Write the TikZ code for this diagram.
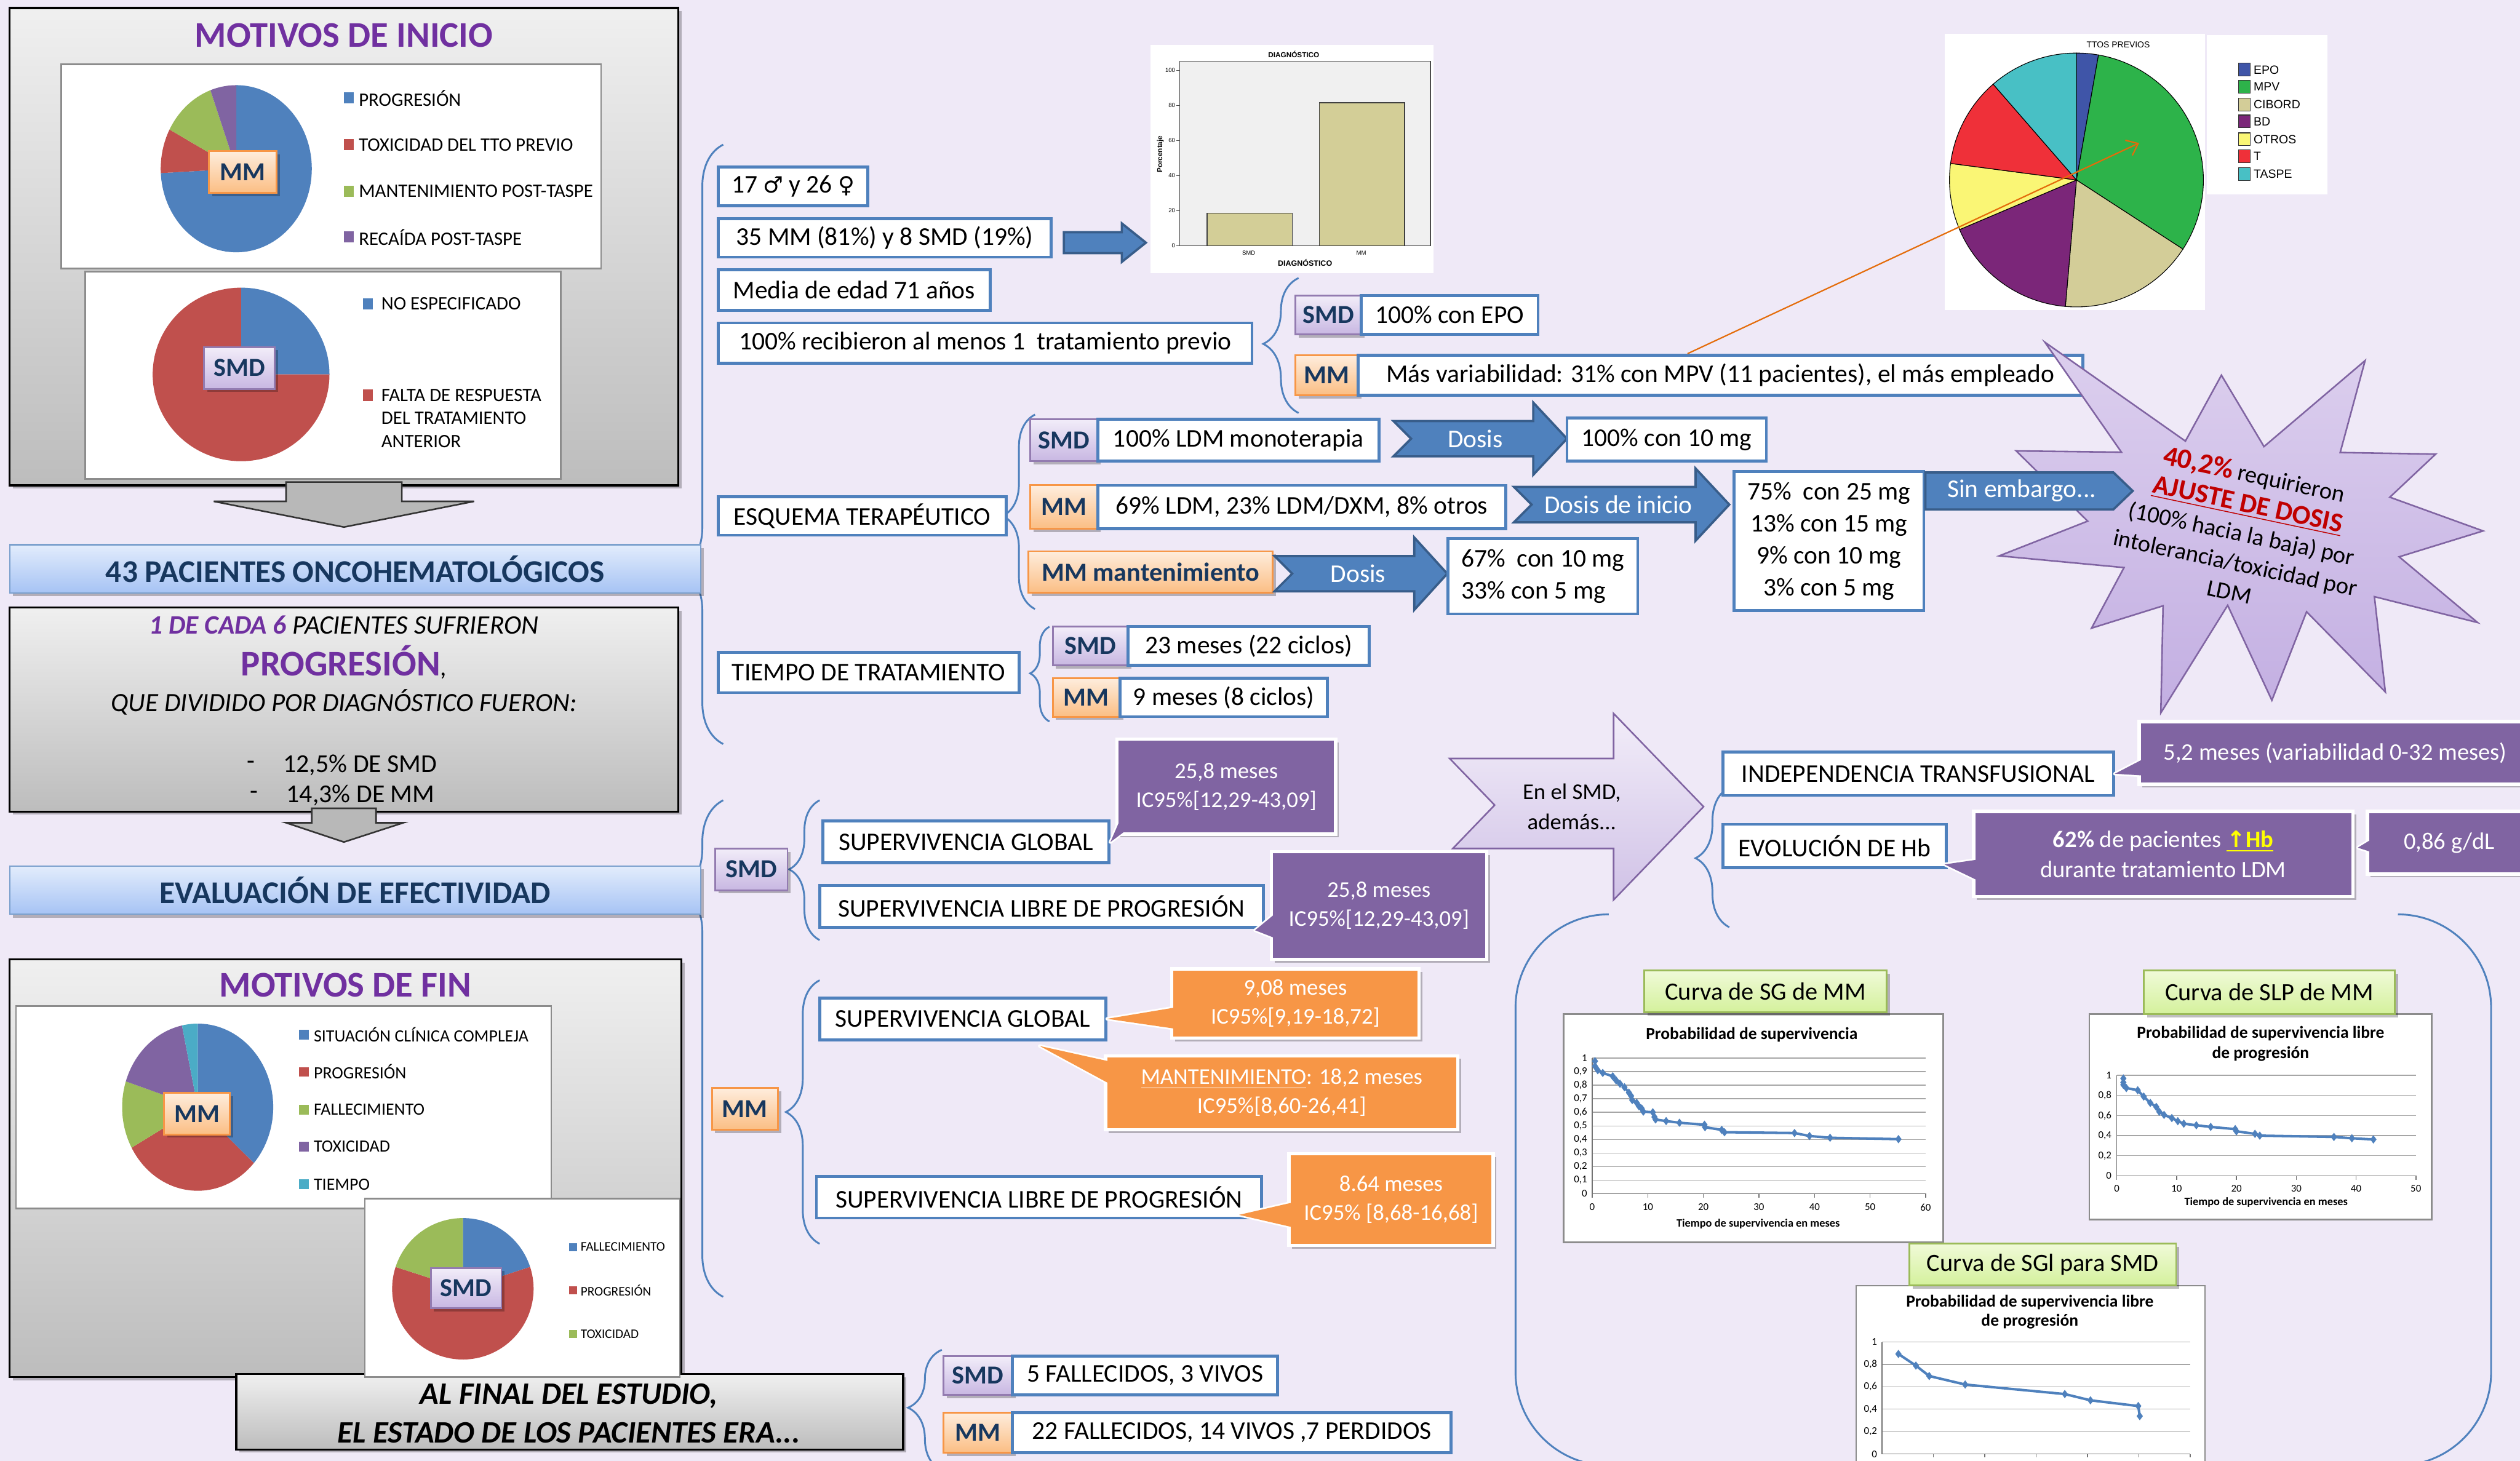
\documentclass[tikz,border=0pt]{standalone}
\usepackage{fontspec}
\setmainfont{Carlito}
\newfontfamily\symbolfont{DejaVu Sans}
\newfontfamily\chartfont{Liberation Sans}
\usepackage{tikz}
\usetikzlibrary{arrows.meta,positioning,fit,calc,shadows,decorations.pathreplacing,plotmarks}
\definecolor{posterBg}{HTML}{EFE9F7}
\definecolor{boxBlue}{HTML}{4F81BD}
\definecolor{boxBlueDark}{HTML}{385D8A}
\definecolor{navyText}{HTML}{17375E}
\definecolor{titlePurple}{HTML}{7030A0}
\definecolor{calPurple}{HTML}{8064A2}
\definecolor{calOrange}{HTML}{F79646}
\definecolor{pieBlue}{HTML}{4F81BD}
\definecolor{pieRed}{HTML}{C0504D}
\definecolor{pieGreen}{HTML}{9BBB59}
\definecolor{piePurple}{HTML}{8064A2}
\definecolor{pieCyan}{HTML}{4BACC6}
\definecolor{redAlert}{HTML}{C00000}
\definecolor{hbYellow}{HTML}{FFFF00}
\definecolor{bandTop}{HTML}{E2ECFC}
\definecolor{bandBottom}{HTML}{A6C3F4}
\definecolor{lilacTop}{HTML}{F2EDF9}
\definecolor{lilacBottom}{HTML}{C8B7E2}
\definecolor{peachTop}{HTML}{FEEDDD}
\definecolor{peachBottom}{HTML}{FBBE84}
\definecolor{greenTop}{HTML}{F0FAD8}
\definecolor{greenBottom}{HTML}{D4F19C}
\definecolor{starTop}{HTML}{DCCFEE}
\definecolor{starBottom}{HTML}{C3AFE2}
\definecolor{barTan}{HTML}{D3CE97}
\definecolor{orangeLine}{HTML}{E46C0A}
\definecolor{ttEpo}{HTML}{3F55A8}
\definecolor{ttMpv}{HTML}{2DB34A}
\definecolor{ttCibord}{HTML}{D3CD98}
\definecolor{ttBd}{HTML}{7B2679}
\definecolor{ttOtros}{HTML}{FAF675}
\definecolor{ttT}{HTML}{EF3039}
\definecolor{ttTaspe}{HTML}{48C0C5}
\newcommand{\fsz}[2]{\fontsize{#1}{#2}\selectfont}
\tikzset{
    softshadow/.style={drop shadow={shadow xshift=0.5mm, shadow yshift=-0.5mm, opacity=0.25, fill=black}},
    panel/.style={draw=black, line width=0.9pt, top color=black!6, bottom color=black!26, inner sep=0pt, softshadow},
    paneltitle/.style={font=\fsz{16}{18}\bfseries, text=titlePurple},
    band/.style={draw=boxBlue!75, line width=0.6pt, top color=bandTop, bottom color=bandBottom, inner sep=0pt, softshadow},
    chartbox/.style={fill=white, draw=black!45, line width=0.7pt, inner sep=0pt},
    infobox/.style={fill=white, draw=boxBlue, line width=1.3pt, inner sep=0pt},
    smdtag/.style={draw=calPurple!85, line width=0.8pt, top color=lilacTop, bottom color=lilacBottom, inner sep=0pt, softshadow},
    mmtag/.style={draw=calOrange, line width=0.8pt, top color=peachTop, bottom color=peachBottom, inner sep=0pt, softshadow},
    calloutP/.style={fill=calPurple, draw=white, line width=1.5pt, inner sep=0pt, softshadow},
    calloutO/.style={calloutP, fill=calOrange},
    curvelabel/.style={draw=pieGreen, line width=0.8pt, top color=greenTop, bottom color=greenBottom, inner sep=0pt, softshadow},
    boxtext/.style={inner sep=0pt, text=black},
    tagtext/.style={inner sep=0pt, font=\fsz{11.5}{14}\bfseries, text=navyText},
    bandtext/.style={inner sep=0pt, font=\fsz{14}{16}\bfseries, text=navyText},
    callouttext/.style={inner sep=0pt, text=white, align=center, font=\fsz{10}{12.8}},
    labeltext/.style={inner sep=0pt, font=\fsz{11}{13}},
    legtext/.style={anchor=west, inner sep=0pt, font=\fsz{8.4}{10}},
    blkarrow/.style={fill=boxBlue, draw=boxBlueDark, line width=1pt},
    arrowtext/.style={text=white, inner sep=0pt},
    graypointer/.style={fill=black!28, draw=black!80, line width=0.7pt},
    gridline/.style={draw=black!35, line width=0.35pt},
    axisline/.style={draw=black!55, line width=0.4pt},
    ticklab/.style={font=\fsz{4.6}{5}, inner sep=0.6pt},
    kmcurve/.style={draw=boxBlue, line width=1.1pt, mark=diamond*, mark size=1.6pt, mark options={fill=boxBlue, draw=boxBlue, line width=0.3pt}},
    bracestyle/.style={draw=boxBlue, line width=0.8pt, decorate},
    orangelink/.style={draw=orangeLine, line width=0.6pt, -{Straight Barb[length=1.6mm, width=2.6mm]}},
    chevronbox/.style={top color=lilacTop, bottom color=lilacBottom!85, draw=calPurple, line width=0.7pt},
    starburst/.style={top color=starTop, bottom color=starBottom, draw=calPurple, line width=0.7pt}
}
% box from two corners, then its text: box style, name, corners, text style, text
\newcommand{\tbox}[5]{\node[#1, fit={#3}] (#2) {}; \node[#4] (#2txt) at (#2.center) {#5};}
% pie: centre, x radius, y radius, extra style, slices from/to/colour
\newcommand{\piechart}[5]{%
  \begin{scope}[shift={#1}, x=0.25mm, y=0.25mm]
    \foreach \a/\b/\c in {#5}
      \path[fill=\c, #4] (0,0) -- (\a:#2 and #3) arc[start angle=\a, end angle=\b, x radius=#2, y radius=#3] -- cycle;
  \end{scope}}
% block arrow: name, tail x, head x, tip x, mid y, half shaft, half head, notch
\newcommand{\blockarrow}[8]{%
  \filldraw[blkarrow] (#2,#5-#6) -- (#3,#5-#6) -- (#3,#5-#7) -- (#4,#5) -- (#3,#5+#7) -- (#3,#5+#6) -- (#2,#5+#6) -- (#2+#8,#5) -- cycle;
  \coordinate (#1) at ({(#2+#8+#3)/2},#5);}
% brace: hook x, top y, bottom y, aspect, amplitude
\newcommand{\bracket}[5]{\draw[bracestyle, decoration={brace, amplitude=#5, aspect=#4}] (#1,#3) -- (#1,#2);}
\newcommand{\pointerback}[4]{\filldraw[fill=#1, draw=white, line width=1.5pt, line join=round] #2 -- #4 -- #3;}
\newcommand{\pointerfront}[4]{\fill[#1] #2 -- #4 -- #3 -- cycle;}
\begin{document}
\begin{tikzpicture}[x=0.25mm, y=-0.25mm, font=\fsz{11.3}{14.2}]
\fill[posterBg] (0,0) rectangle (1568,909);
\useasboundingbox (0,0) rectangle (1568,909);

\bracket{450}{90}{463}{0.292}{6.5mm}
\bracket{450}{498}{807}{0.819}{6.5mm}
\bracket{808}{173}{257}{0.512}{5.5mm}
\bracket{644}{258}{379}{0.479}{5mm}
\bracket{653}{390}{449}{0.508}{3mm}
\bracket{510}{498}{585}{0.506}{4.75mm}
\bracket{510}{610}{774}{0.5}{5.25mm}
\bracket{1076}{490}{577}{0.494}{5.25mm}
\bracket{586}{840}{915}{0.52}{5.25mm}
\draw[boxBlue, line width=0.8pt] (1001,569) .. controls (969,569) and (943,595) .. (943,627) -- (943,854) .. controls (943,886) and (969,912) .. (1001,912);
\draw[boxBlue, line width=0.8pt] (1492,569) .. controls (1524,569) and (1550,595) .. (1550,627) -- (1550,854) .. controls (1550,886) and (1524,912) .. (1492,912);

% motivos de inicio
\node[panel, fit={(6,5) (422,302)}] (inicio) {};
\node[paneltitle] (iniciotitle) at (214,22) {MOTIVOS DE INICIO};
\node[chartbox, fit={(38,40) (374,167)}] (iniciomm) {};
\piechart{(147,105)}{47}{52}{}{90/-177/pieBlue, 183/152/pieRed, 152/110/pieGreen, 110/90/piePurple}
\tbox{mmtag}{iniciommtag}{(130,94) (172,120)}{tagtext}{MM}
\foreach \y/\c/\t [count=\i] in {61/pieBlue/PROGRESIÓN, 90/pieRed/TOXICIDAD DEL TTO PREVIO, 119/pieGreen/MANTENIMIENTO POST-TASPE, 147.5/piePurple/RECAÍDA POST-TASPE} {
  \fill[\c] (214,\y-3.5) rectangle (220,\y+3.5);
  \node[legtext] (inileg\i) at (223,\y) {\t};
}
\node[chartbox, fit={(53,169) (349,298)}] (iniciosmd) {};
\piechart{(150,233)}{55}{54}{}{90/0/pieBlue, 0/-270/pieRed}
\tbox{smdtag}{iniciosmdtag}{(127,216) (171,242)}{tagtext}{SMD}
\fill[pieBlue] (226,185.5) rectangle (232,192.5);
\node[legtext] (inilegne) at (237,189) {NO ESPECIFICADO};
\fill[pieRed] (226,242.5) rectangle (232,249.5);
\node[legtext, align=left, font=\fsz{8.4}{10.2}] (inilegfalta) at (237,260.3) {FALTA DE RESPUESTA\\DEL TRATAMIENTO\\ANTERIOR};
\filldraw[graypointer] (178,300) -- (250,300) -- (250,312) -- (295,312) -- (214,328) -- (133,312) -- (178,312) -- cycle;

\tbox{band}{pacientes}{(6,339) (436,369)}{bandtext}{43 PACIENTES ONCOHEMATOLÓGICOS}

\node[panel, fit={(6,378) (422,505)}] (progpanel) {};
\node[font=\fsz{11.8}{13}\itshape] (cada) at (214,389) {{\color{titlePurple}\bfseries 1 DE CADA 6} PACIENTES SUFRIERON};
\node (progword) at (214,412) {{\color{titlePurple}\bfseries\fsz{16}{18}PROGRESIÓN},};
\node[font=\fsz{11.7}{13}\itshape] (dividido) at (214,437) {QUE DIVIDIDO POR DIAGNÓSTICO FUERON:};
\node[font=\fsz{11.4}{13}] (dashsmd) at (156,476) {-};
\node[font=\fsz{11.4}{13}, anchor=west, inner sep=0pt] (progsmd) at (176,476) {12,5\% DE SMD};
\node[font=\fsz{11.4}{13}] (dashmm) at (158,495) {-};
\node[font=\fsz{11.4}{13}, anchor=west, inner sep=0pt] (progmm) at (178,495) {14,3\% DE MM};
\filldraw[graypointer] (194,503) -- (234,503) -- (234,512) -- (251,512) -- (214,524) -- (178,512) -- (194,512) -- cycle;

\tbox{band}{evaluacion}{(6,539) (436,569)}{bandtext}{EVALUACIÓN DE EFECTIVIDAD}

% motivos de fin
\node[panel, fit={(6,597) (424,857)}] (fin) {};
\node[paneltitle] (fintitle) at (215,613) {MOTIVOS DE FIN};
\node[chartbox, fit={(10,626) (343,752)}] (finmm) {};
\piechart{(123,689)}{47}{52}{}{90/-42/pieBlue, -42/-151/pieRed, 209/162/pieGreen, 162/102/piePurple, 102/90/pieCyan}
\tbox{mmtag}{finmmtag}{(102,680) (143,706)}{tagtext}{MM}
\foreach \y/\c/\t [count=\i] in {644/pieBlue/SITUACIÓN CLÍNICA COMPLEJA, 667/pieRed/PROGRESIÓN, 690.5/pieGreen/FALLECIMIENTO, 713.5/piePurple/TOXICIDAD, 737/pieCyan/TIEMPO} {
  \fill[\c] (186,\y-3) rectangle (192,\y+3);
  \node[legtext, font=\fsz{7.6}{9}] (finleg\i) at (195,\y) {\t};
}
\node[panel, fit={(147,855) (562,902)}] (alfinal) {};
\node[chartbox, fit={(227,746) (423,857)}] (finsmd) {};
\piechart{(288,802)}{44}{44}{}{90/18/pieBlue, 18/-198/pieRed, 162/90/pieGreen}
\tbox{smdtag}{finsmdtag}{(268,789) (312,814)}{tagtext}{SMD}
\foreach \y/\c/\t [count=\i] in {776/pieBlue/FALLECIMIENTO, 803/pieRed/PROGRESIÓN, 830/pieGreen/TOXICIDAD} {
  \fill[\c] (354,\y-2.5) rectangle (359,\y+2.5);
  \node[legtext, font=\fsz{5.8}{7}] (finsmdleg\i) at (361,\y) {\t};
}
\node[align=center, inner sep=0pt, font=\fsz{13.8}{17}\bfseries\itshape] (alfinaltxt) at (354,879.5) {AL FINAL DEL ESTUDIO,\\EL ESTADO DE LOS PACIENTES ERA...};

% datos generales
\tbox{infobox}{sexo}{(447,104) (540,128)}{boxtext}{17 {\symbolfont\fsz{10}{12}♂} y 26 {\symbolfont\fsz{10}{12}♀}}
\tbox{infobox}{diag}{(447,136) (654,160)}{boxtext}{35 MM (81\%) y 8 SMD (19\%)}
\tbox{infobox}{edad}{(447,168) (616,193)}{boxtext}{Media de edad 71 años}
\tbox{infobox}{previo}{(447,201) (779,226)}{boxtext}{100\% recibieron al menos 1~ tratamiento previo}
\blockarrow{diagarrow}{662}{698}{713}{151}{6.5}{12}{0}

\node[chartbox, draw=none, fit={(716,28) (892,170)}] (barchart) {};
\filldraw[fill=black!6, draw=black!70, line width=0.4pt] (734,38) rectangle (890,153);
\filldraw[fill=barTan, draw=black!75, line width=0.4pt] (751,153) rectangle (804,132.7);
\filldraw[fill=barTan, draw=black!75, line width=0.4pt] (821,153) rectangle (874,64);
\foreach \v [count=\i] in {0,20,...,100} {
  \draw[black!70, line width=0.3pt] (732,153-1.093*\v) -- (734,153-1.093*\v);
  \node[font=\chartfont\fsz{2.6}{3}, anchor=east, inner sep=0.4pt] (bary\i) at (732,153-1.093*\v) {\v};
}
\node[font=\chartfont\fsz{2.6}{3}] (barsmd) at (777,157.5) {SMD};
\node[font=\chartfont\fsz{2.6}{3}] (barmm) at (847,157.5) {MM};
\node[font=\chartfont\bfseries\fsz{3.2}{4}] (bartitle) at (805,34) {DIAGNÓSTICO};
\node[font=\chartfont\bfseries\fsz{3.4}{4}] (barxlab) at (812,163.5) {DIAGNÓSTICO};
\node[font=\chartfont\bfseries\fsz{3.2}{4}, rotate=90] (barylab) at (722,96) {Porcentaje};

\tbox{smdtag}{eposmd}{(806,184) (847,208)}{tagtext}{SMD}
\tbox{infobox}{epo}{(847,184) (957,208)}{boxtext}{100\% con EPO}
\tbox{mmtag}{mpvmm}{(806,221) (845,246)}{tagtext}{MM}
\tbox{infobox}{mpv}{(845,221) (1296,246)}{boxtext}{Más variabilidad: 31\% con MPV (11 pacientes), el más empleado}

\node[chartbox, draw=none, fit={(1210,21) (1372,193)}] (ttos) {};
\node[chartbox, draw=none, fit={(1373,22) (1448,121)}] (ttosleg) {};
\piechart{(1292,112)}{79}{79}{draw=black, line width=0.3pt}{90/80/ttEpo, 80/-33/ttMpv, -33/-95/ttCibord, -95/-157/ttBd, 203/172.5/ttOtros, 172.5/131/ttT, 131/90/ttTaspe}
\node[font=\chartfont\fsz{3.8}{4.5}] (ttostitle) at (1318,28) {TTOS PREVIOS};
\foreach \y/\c/\t [count=\i] in {43.4/ttEpo/EPO, 54/ttMpv/MPV, 65/ttCibord/CIBORD, 75.6/ttBd/BD, 86.7/ttOtros/OTROS, 97.3/ttT/T, 108.3/ttTaspe/TASPE} {
  \filldraw[fill=\c, draw=black!80, line width=0.3pt] (1393,\y-4) rectangle (1400,\y+4);
  \node[anchor=west, inner sep=0pt, font=\chartfont\fsz{5.3}{6}] (ttleg\i) at (1402,\y) {\t};
}
\coordinate (mpvfoot) at (1050,0);
\coordinate (mpvslice) at (1331,89);
\draw[orangelink] (mpv.north -| mpvfoot) -- (mpvslice);

% esquema terapeutico
\tbox{infobox}{esquema}{(447,309) (626,333)}{boxtext}{ESQUEMA TERAPÉUTICO}
\tbox{smdtag}{ldmsmd}{(641,261) (683,287)}{tagtext}{SMD}
\tbox{infobox}{ldm}{(683,261) (858,287)}{boxtext}{100\% LDM monoterapia}
\blockarrow{dosisa}{867}{954}{975}{273}{11}{22.5}{11}
\node[arrowtext] (dosis1) at (918,273) {Dosis};
\tbox{infobox}{diez}{(975,260) (1099,287)}{boxtext}{100\% con 10 mg}
\tbox{mmtag}{ldmmm}{(641,302) (683,329)}{tagtext}{MM}
\tbox{infobox}{ldmdxm}{(683,302) (937,329)}{boxtext}{69\% LDM, 23\% LDM/DXM, 8\% otros}
\blockarrow{inicioa}{942}{1055}{1076}{314}{11}{22.5}{11}
\node[arrowtext] (dosis2) at (1007,314) {Dosis de inicio};
\tbox{infobox}{dosisini}{(1079,293.5) (1197,380)}{boxtext, align=center}{75\%\ \ con 25 mg\\13\% con 15 mg\\9\% con 10 mg\\3\% con 5 mg}
\tbox{mmtag}{mant}{(640,343) (792,369)}{tagtext}{MM mantenimiento}
\blockarrow{manta}{793}{880}{900.5}{357}{11}{22.5}{11}
\node[arrowtext] (dosis3) at (845,357) {Dosis};
\tbox{infobox}{mantdosis}{(901,335) (1019,382)}{boxtext, align=left}{67\%\ \ con 10 mg\\33\% con 5 mg}

\filldraw[starburst] (1272.4,213) -- (1359.8,274.5) -- (1382.2,233.5) -- (1408.7,277.9) -- (1471.6,224.4) -- (1456.1,281.6) -- (1515.5,282.6) -- (1487,309.4) -- (1545,330.4) -- (1492.8,346.5) -- (1541.6,387.4) -- (1477.4,371.3) -- (1484.2,430.6) -- (1435.2,380.7) -- (1413.6,435.8) -- (1386.1,376.7) -- (1344.5,443.6) -- (1345.9,377) -- (1301.4,390.9) -- (1321.6,353.2) -- (1244,345.9) -- (1299,324.3) -- (1254.5,280.6) -- (1320,281.4) -- cycle;
\node[rotate=-12, align=center, font=\fsz{10.5}{13.2}] (ajuste) at (1395,331) {{\color{redAlert}\bfseries\fsz{12.5}{14}40,2\%} requirieron\\{\color{redAlert}\bfseries\fsz{12}{14}\underline{AJUSTE DE DOSIS}}\\(100\% hacia la baja) por\\intolerancia/toxicidad por\\LDM};
\filldraw[blkarrow] (1198,294) -- (1315,294) -- (1327,305.5) -- (1315,317) -- (1198,317) -- cycle;
\node[arrowtext] (sinembargo) at (1258,305.5) {Sin embargo...};

% tiempo de tratamiento
\tbox{infobox}{tiempo}{(447,406) (634,431)}{boxtext}{TIEMPO DE TRATAMIENTO}
\tbox{smdtag}{tsmd}{(655,390) (702,414)}{tagtext}{SMD}
\tbox{infobox}{tsmdval}{(702,390) (852,414)}{boxtext}{23 meses (22 ciclos)}
\tbox{mmtag}{tmm}{(655,422) (697,446)}{tagtext}{MM}
\tbox{infobox}{tmmval}{(697,422) (826,446)}{boxtext}{9 meses (8 ciclos)}

% supervivencia
\tbox{smdtag}{evsmd}{(445,528) (490,554)}{tagtext}{SMD}
\tbox{infobox}{smdsg}{(512,511) (690,537)}{boxtext}{SUPERVIVENCIA GLOBAL}
\tbox{infobox}{smdslp}{(510,551) (786,577)}{boxtext}{SUPERVIVENCIA LIBRE DE PROGRESIÓN}
\tbox{mmtag}{evmm}{(443,677) (484,703)}{tagtext}{MM}
\tbox{infobox}{mmsg}{(510,621) (688,647)}{boxtext}{SUPERVIVENCIA GLOBAL}
\tbox{infobox}{mmslp}{(508,732) (785,758)}{boxtext}{SUPERVIVENCIA LIBRE DE PROGRESIÓN}

\pointerback{calPurple}{(703,496)}{(703,515)}{(smdsg.east)}
\tbox{calloutP}{smdsgval}{(695,460) (831,519)}{callouttext}{25,8 meses\\IC95\%[12,29-43,09]}
\pointerfront{calPurple}{(703,496)}{(703,515)}{(smdsg.east)}
\pointerback{calPurple}{(799,564)}{(799,586)}{($(smdslp.south east)+(-6,1)$)}
\tbox{calloutP}{smdslpval}{(791,530) (925,597)}{callouttext}{25,8 meses\\IC95\%[12,29-43,09]}
\pointerfront{calPurple}{(799,564)}{(799,586)}{($(smdslp.south east)+(-6,1)$)}
\pointerback{calOrange}{(737,626)}{(737,641)}{(mmsg.east)}
\tbox{calloutO}{mmsgval}{(729,603) (883,646)}{callouttext}{9,08 meses\\IC95\%[9,19-18,72]}
\pointerfront{calOrange}{(737,626)}{(737,641)}{(mmsg.east)}
\pointerback{calOrange}{(697,662)}{(697,678)}{($(mmsg.south east)+(-42,3)$)}
\tbox{calloutO}{mantval}{(688,657) (907,703)}{callouttext}{\underline{MANTENIMIENTO}: 18,2 meses\\IC95\%[8,60-26,41]}
\pointerfront{calOrange}{(697,662)}{(697,678)}{($(mmsg.south east)+(-42,3)$)}
\pointerback{calOrange}{(810,747)}{(810,765)}{($(mmslp.east)+(-15,11)$)}
\tbox{calloutO}{mmslpval}{(802,718) (929,775)}{callouttext}{8.64 meses\\IC95\% [8,68-16,68]}
\pointerfront{calOrange}{(810,747)}{(810,765)}{($(mmslp.east)+(-15,11)$)}

% en el SMD
\filldraw[chevronbox] (902,472) -- (1004,472) -- (1004,444) -- (1060,502) -- (1004,560) -- (1004,528) -- (904,528) -- (930,501) -- cycle;
\node[font=\fsz{10}{13.5}, align=center] (ademas) at (978,502) {En el SMD,\\además...};
\tbox{infobox}{indep}{(1072,468) (1315,495)}{boxtext}{INDEPENDENCIA TRANSFUSIONAL}
\tbox{infobox}{evol}{(1072,513) (1211,540)}{boxtext}{EVOLUCIÓN DE Hb}
\pointerback{calPurple}{(1340,469)}{(1340,483)}{(indep.east)}
\tbox{calloutP}{indepval}{(1331,449) (1575,488)}{callouttext, font=\fsz{10.5}{12.8}}{5,2 meses (variabilidad 0-32 meses)}
\pointerfront{calPurple}{(1340,469)}{(1340,483)}{(indep.east)}
\pointerback{calPurple}{(1237,534)}{(1237,551)}{($(evol.south east)+(-2,-3)$)}
\tbox{calloutP}{hbval}{(1228,505) (1464,558)}{callouttext, font=\fsz{10.5}{13.2}}{{\bfseries 62\%} de pacientes {\color{hbYellow}\bfseries\underline{{\symbolfont\fsz{10}{12}↑}Hb}}\\durante tratamiento LDM}
\pointerfront{calPurple}{(1237,534)}{(1237,551)}{($(evol.south east)+(-2,-3)$)}
\pointerback{calPurple}{(1481,519)}{(1481,532)}{($(hbval.east)+(2,-4)$)}
\tbox{calloutP}{gdl}{(1473,505) (1575,544)}{callouttext, font=\fsz{10.5}{12.8}}{0,86 g/dL}
\pointerfront{calPurple}{(1481,519)}{(1481,532)}{($(hbval.east)+(2,-4)$)}

% curvas
\node[chartbox, fit={(973,631) (1209,773)}] (sgchart) {};
\tbox{curvelabel}{sglabel}{(1023,604) (1174,630)}{labeltext}{Curva de SG de MM}
\node[font=\fsz{7.5}{9}\bfseries] (sgtitle) at (1090,644) {Probabilidad de supervivencia};
\begin{scope}[shift={(990.7,742.8)}, x=0.8645mm, y=21.1mm]
  \foreach \v in {0.1,0.2,...,1.0} \draw[gridline] (0,\v) -- (60,\v);
  \draw[axisline] (0,0) -- (0,1);
  \draw[axisline] (0,0) -- (60,0);
  \foreach \t in {0,10,...,60} {
    \draw[axisline] (\t,0) -- (\t,-0.03);
    \node[ticklab] (sgx\t) at (\t,-0.1) {\t};
  }
  \foreach \l [count=\i from 0] in {0,{0,1},{0,2},{0,3},{0,4},{0,5},{0,6},{0,7},{0,8},{0,9},1}
    \node[ticklab, anchor=east] (sgy\i) at (-0.6,\i/10) {\l};
  \draw[kmcurve] plot coordinates {(0.5,0.977) (0.5,0.94) (1,0.91) (1.9,0.89) (3.7,0.865) (4.3,0.835) (5,0.81) (5.8,0.785) (6.6,0.745) (7,0.72) (7.2,0.69) (8,0.67) (8.4,0.645) (8.9,0.628) (9.2,0.605) (10.9,0.6) (11.2,0.565) (11.4,0.547) (13.3,0.535) (15.7,0.523) (20.2,0.508) (20.3,0.49) (23.3,0.47) (23.8,0.453) (36.4,0.447) (39.1,0.425) (42.8,0.412) (55.1,0.402)};
\end{scope}
\node[font=\fsz{5}{6}\bfseries] (sgxlab) at (1094,761.5) {Tiempo de supervivencia en meses};

\node[chartbox, fit={(1300,631) (1513,759)}] (slpchart) {};
\tbox{curvelabel}{slplabel}{(1334,604) (1490,631)}{labeltext}{Curva de SLP de MM}
\node[font=\fsz{7.5}{9.2}\bfseries, align=center] (slptitle) at (1406.6,649.5) {Probabilidad de supervivencia libre\\de progresión};
\begin{scope}[shift={(1317.1,731.7)}, x=0.9305mm, y=15.625mm]
  \foreach \v in {0.2,0.4,...,1.0} \draw[gridline] (0,\v) -- (50,\v);
  \draw[axisline] (0,0) -- (0,1);
  \draw[axisline] (0,0) -- (50,0);
  \foreach \t in {0,10,...,50} {
    \draw[axisline] (\t,0) -- (\t,-0.04);
    \node[ticklab] (slpx\t) at (\t,-0.125) {\t};
  }
  \foreach \l [count=\i from 0] in {0,{0,2},{0,4},{0,6},{0,8},1}
    \node[ticklab, anchor=east] (slpy\i) at (-0.6,\i/5) {\l};
  \draw[kmcurve] plot coordinates {(1.1,0.969) (1.1,0.93) (1.1,0.906) (1.6,0.874) (3.5,0.852) (4.5,0.789) (5.6,0.726) (6.6,0.686) (7.1,0.638) (7.9,0.607) (9.2,0.575) (10.2,0.544) (11.2,0.519) (13.3,0.503) (15.7,0.487) (19.8,0.465) (20,0.443) (23.1,0.418) (23.9,0.4) (36.3,0.387) (39.3,0.374) (42.9,0.362)};
\end{scope}
\node[font=\fsz{5}{6}\bfseries] (slpxlab) at (1410,748.3) {Tiempo de supervivencia en meses};

\node[chartbox, fit={(1155,800) (1372,915)}] (sglchart) {};
\tbox{curvelabel}{sgllabel}{(1188,774) (1354,800)}{labeltext}{Curva de SGl para SMD}
\node[font=\fsz{7.5}{8.4}\bfseries, align=center] (sgltitle) at (1263,816.5) {Probabilidad de supervivencia libre\\de progresión};
\begin{scope}[shift={(1171,904.8)}, x=0.7988mm, y=17.425mm]
  \foreach \v in {0.2,0.4,...,1.0} \draw[gridline] (0,\v) -- (60,\v);
  \draw[axisline] (0,0) -- (0,1);
  \draw[axisline] (0,0) -- (60,0);
  \foreach \t in {10,20,...,60} \draw[axisline] (\t,0) -- (\t,-0.03);
  \foreach \l [count=\i from 0] in {0,{0,2},{0,4},{0,6},{0,8},1}
    \node[ticklab, anchor=east] (sgly\i) at (-0.6,\i/5) {\l};
  \draw[kmcurve] plot coordinates {(3.2,0.893) (6.6,0.789) (9.2,0.696) (16.2,0.62) (35.6,0.535) (40.6,0.479) (49.9,0.428) (50.2,0.338)};
\end{scope}

% estado final
\tbox{smdtag}{finalsmd}{(587,844) (630,868)}{tagtext}{SMD}
\tbox{infobox}{finalsmdval}{(630,844) (795,868)}{boxtext}{5 FALLECIDOS, 3 VIVOS}
\tbox{mmtag}{finalmm}{(587,879) (630,904)}{tagtext}{MM}
\tbox{infobox}{finalmmval}{(630,879) (903,904)}{boxtext}{22 FALLECIDOS, 14 VIVOS ,7 PERDIDOS}
\end{tikzpicture}
\end{document}
